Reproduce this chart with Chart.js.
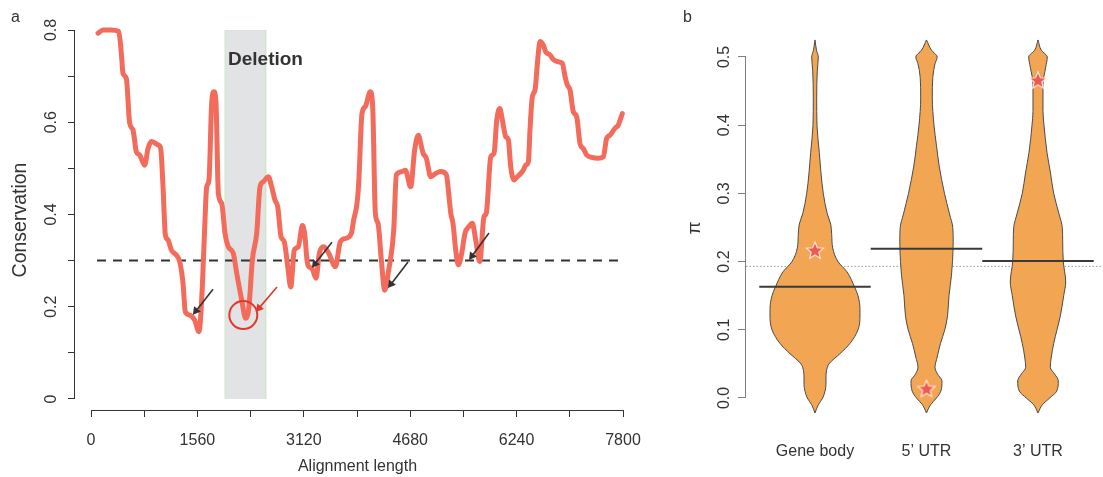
<!DOCTYPE html>
<html><head><meta charset="utf-8">
<script src="https://cdn.jsdelivr.net/npm/chart.js@4.4.0/dist/chart.umd.min.js"></script>
<style>
html,body{margin:0;padding:0;background:#fff;}
#wrap{position:relative;width:1103px;height:477px;overflow:hidden;}
#ca{position:absolute;left:0;top:0;}
#cb{position:absolute;left:650px;top:0;}
</style></head><body>
<div id="wrap"><canvas id="ca" width="650" height="477"></canvas><canvas id="cb" width="453" height="477"></canvas></div>
<script>
// ---------- Panel a data ----------
const alignPos = [103,176,298,406,445,469,518,567,616,665,714,787,836,885,982,1022,1056,1090,1129,1178,1251,1300,1349,1383,1447,1520,1583,1632,1671,1696,1730,1769,1803,1833,1867,1916,1965,2013,2086,2136,2209,2268,2316,2365,2429,2478,2527,2600,2649,2698,2737,2786,2834,2884,2928,2981,3039,3100,3135,3167,3192,3240,3299,3348,3412,3485,3583,3655,3729,3817,3851,3900,3925,3973,4022,4095,4130,4169,4208,4257,4306,4365,4438,4477,4560,4609,4687,4745,4799,4834,4868,4916,4981,5054,5127,5210,5249,5274,5307,5347,5385,5435,5483,5542,5591,5640,5699,5762,5796,5861,5909,5949,5993,6031,6080,6119,6153,6202,6250,6300,6338,6373,6412,6436,6470,6510,6549,6583,6632,6666,6730,6778,6851,6910,6950,6983,7023,7071,7121,7169,7218,7267,7341,7438,7511,7560,7609,7683,7731,7790];
const conservation = [0.793,0.800,0.800,0.797,0.749,0.706,0.695,0.598,0.583,0.536,0.529,0.507,0.543,0.558,0.551,0.543,0.460,0.356,0.345,0.323,0.312,0.298,0.251,0.189,0.182,0.171,0.146,0.243,0.388,0.460,0.475,0.641,0.666,0.641,0.446,0.424,0.359,0.330,0.316,0.273,0.215,0.175,0.200,0.301,0.359,0.460,0.471,0.482,0.460,0.431,0.417,0.352,0.341,0.287,0.243,0.323,0.330,0.376,0.355,0.301,0.287,0.283,0.262,0.316,0.330,0.316,0.287,0.341,0.348,0.359,0.388,0.424,0.468,0.619,0.634,0.666,0.634,0.403,0.381,0.301,0.236,0.280,0.366,0.486,0.493,0.496,0.460,0.540,0.572,0.554,0.533,0.522,0.482,0.489,0.493,0.486,0.439,0.403,0.381,0.323,0.291,0.316,0.359,0.374,0.381,0.345,0.298,0.395,0.403,0.525,0.533,0.605,0.630,0.605,0.569,0.562,0.504,0.475,0.482,0.489,0.496,0.507,0.514,0.583,0.655,0.670,0.735,0.775,0.767,0.753,0.746,0.736,0.731,0.728,0.699,0.681,0.670,0.623,0.612,0.554,0.543,0.529,0.524,0.522,0.525,0.565,0.572,0.587,0.594,0.619];
const threshold = 0.3;
const thresholdRange = [88, 7800];
const deletionRange = [1965, 2561];
const deletionLabel = 'Deletion';
const xTicksA = [0,780,1560,2340,3120,3900,4680,5460,6240,7020,7800];
const xLabelsA = [0,1560,3120,4680,6240,7800];
const yTicksA = [0,0.1,0.2,0.3,0.4,0.5,0.6,0.7,0.8];
const yLabelsA = ['0','','0.2','','0.4','','0.6','','0.8'];
// arrows: tail -> head (alignment position, conservation)
const arrowTailX = [1789, 2727, 3533, 4648, 5835];
const arrowTailY = [0.238, 0.243, 0.340, 0.297, 0.360];
const arrowHeadX = [1539, 2463, 3284, 4398, 5586];
const arrowHeadY = [0.191, 0.197, 0.293, 0.249, 0.310];
const arrowIsRed = [false, true, false, false, false];
const circleX = [2233], circleY = [0.182];

// ---------- Panel b data ----------
const categories = ['Gene body', '5\u2019 UTR', '3\u2019 UTR'];
const catPos = [1, 2, 3];
const medians = [0.163, 0.219, 0.201];
const overallPi = 0.193;
const starPi = [0.2155, 0.0127, 0.465];
const yTicksB = [0, 0.1, 0.2, 0.3, 0.4, 0.5];
const yLabelsB = ['0.0','0.1','0.2','0.3','0.4','0.5'];
const geneBodyPi  = [-0.022,-0.01,0,0.01,0.02,0.03,0.04,0.05,0.065,0.08,0.10,0.12,0.13,0.15,0.163,0.185,0.20,0.22,0.24,0.255,0.27,0.30,0.33,0.36,0.40,0.44,0.48,0.50,0.51,0.525];
const geneBodyDen = [0,3.3,7.7,10,11,11,11.5,14,25,35,43,45,45,43,39.5,32,23,17.7,16.7,15.7,12.3,8.3,6,4.3,2,1.7,2.3,3.3,1.5,0];
const utr5Pi  = [-0.022,-0.01,0,0.01,0.025,0.035,0.045,0.06,0.08,0.10,0.12,0.15,0.18,0.20,0.23,0.25,0.27,0.30,0.34,0.37,0.40,0.44,0.47,0.49,0.50,0.51,0.525];
const utr5Den = [0,4,10,14.3,15.5,11,8.5,10.7,14,18.3,21,22.5,25,26,26.7,26.3,23,18,12.7,10,7.5,5.8,6.3,8.5,10.7,5,0];
const utr3Pi  = [-0.022,-0.01,0,0.01,0.025,0.035,0.045,0.06,0.08,0.10,0.12,0.15,0.17,0.20,0.23,0.25,0.27,0.30,0.33,0.36,0.40,0.42,0.46,0.485,0.50,0.51,0.525];
const utr3Den = [0,4.3,11.7,18.7,20.3,16.7,12.3,13.3,15.7,19,22.3,25.7,27.7,25.3,24.7,24.3,21,15.7,12.5,9,6,5,5,7.7,9.3,3.3,0];

// ---------- common ----------
const FONT = "'Liberation Sans', Arial, Helvetica, sans-serif";
Chart.defaults.font.family = FONT;
Chart.defaults.color = '#333';

const rAxes = {
  id: 'rAxes',
  afterDraw(chart, args, opts) {
    const {ctx, chartArea, scales} = chart;
    ctx.save();
    ctx.strokeStyle = opts.color; ctx.lineWidth = 1;
    if (opts.y) {
      const px = Math.round(chartArea.left) - 0.5;
      ctx.beginPath();
      ctx.moveTo(px, scales.y.getPixelForValue(opts.y[0]));
      ctx.lineTo(px, scales.y.getPixelForValue(opts.y[1]));
      ctx.stroke();
    }
    if (opts.x) {
      const py = Math.round(chartArea.bottom) + 0.5;
      ctx.beginPath();
      ctx.moveTo(scales.x.getPixelForValue(opts.x[0]), py);
      ctx.lineTo(scales.x.getPixelForValue(opts.x[1]), py);
      ctx.stroke();
    }
    if (opts.label) {
      const L = opts.label;
      ctx.fillStyle = '#333';
      ctx.font = 'bold 19px ' + FONT;
      ctx.textBaseline = 'alphabetic';
      ctx.textAlign = 'left';
      ctx.fillText(L.text, scales.x.getPixelForValue(L.x) + 3, scales.y.getPixelForValue(L.y));
    }
    ctx.restore();
  }
};

function arrowRotation(ctx) {
  const ch = ctx.chart, d = ctx.dataset.data;
  const dx = ch.scales.x.getPixelForValue(d[1].x) - ch.scales.x.getPixelForValue(d[0].x);
  const dy = ch.scales.y.getPixelForValue(d[1].y) - ch.scales.y.getPixelForValue(d[0].y);
  return Math.atan2(dx, -dy) * 180 / Math.PI;
}
const noPad = s => { s.paddingLeft = 0; s.paddingRight = 0; s.paddingTop = 0; s.paddingBottom = 0; };

// ---------- Panel a ----------
const dsA = [];
dsA.push({
  data: [{x:deletionRange[0],y:0},{x:deletionRange[0],y:0.8},{x:deletionRange[1],y:0.8},{x:deletionRange[1],y:0}],
  fill: 'origin', backgroundColor: '#E1E3E5', borderColor: '#CFE7C8', borderWidth: 1,
  pointRadius: 0, tension: 0, order: 20
});
dsA.push({
  data: thresholdRange.map(x => ({x, y: threshold})),
  borderColor: '#333', borderWidth: 2, borderDash: [9, 7], pointRadius: 0, fill: false, order: 10
});
dsA.push({
  data: alignPos.map((x, i) => ({x, y: conservation[i]})),
  borderColor: '#F26B5B', borderWidth: 5, pointRadius: 0, fill: false, clip: 10,
  cubicInterpolationMode: 'monotone', borderJoinStyle: 'round', borderCapStyle: 'round', order: 5
});
arrowTailX.forEach((tx, i) => {
  const col = arrowIsRed[i] ? '#E8352B' : '#333';
  dsA.push({
    data: [{x: tx, y: arrowTailY[i]}, {x: arrowHeadX[i], y: arrowHeadY[i]}],
    borderColor: col, borderWidth: 1.6, fill: false, tension: 0,
    pointRadius: [0, 5], pointStyle: 'triangle', pointRotation: arrowRotation,
    pointBackgroundColor: col, pointBorderColor: col, pointBorderWidth: 0, order: 1
  });
});
dsA.push({
  data: circleX.map((x, i) => ({x, y: circleY[i]})),
  showLine: false, pointRadius: 14, pointStyle: 'circle',
  pointBackgroundColor: 'rgba(0,0,0,0)', pointBorderColor: '#E8352B', pointBorderWidth: 2, order: 0
});

new Chart(document.getElementById('ca'), {
  type: 'line',
  data: { datasets: dsA },
  plugins: [rAxes],
  options: {
    responsive: false, animation: false, devicePixelRatio: 1, events: [],
    layout: { autoPadding: false, padding: { left: 11, right: 10, top: 0, bottom: 0 } },
    plugins: {
      legend: { display: false }, tooltip: { enabled: false },
      title: { display: true, text: 'a', align: 'start', color: '#333',
               font: { size: 16, weight: 'normal' }, padding: { top: 8, bottom: 2.8 } },
      rAxes: { color: '#333', x: [0, 7800], y: [0, 0.8],
               label: { text: deletionLabel, x: deletionRange[0], y: 0.724 } }
    },
    scales: {
      x: {
        type: 'linear', min: -234.6, max: 8049,
        afterBuildTicks: s => { s.ticks = xTicksA.map(v => ({value: v})); },
        afterFit: s => { s.height = 67; noPad(s); },
        border: { display: false },
        grid: { drawOnChartArea: false, drawTicks: true, tickLength: 7, color: '#333', lineWidth: 1 },
        ticks: { autoSkip: false, maxRotation: 0, padding: 14, color: '#333', font: { size: 16 },
                 callback: v => xLabelsA.includes(v) ? String(v) : '' },
        title: { display: true, text: 'Alignment length', color: '#333', font: { size: 16 },
                 padding: { top: 0, bottom: 1 } }
      },
      y: {
        type: 'linear', min: -0.02385, max: 0.8,
        afterBuildTicks: s => { s.ticks = yTicksA.map(v => ({value: v})); },
        afterFit: s => { s.width = 64; noPad(s); },
        border: { display: false },
        grid: { drawOnChartArea: false, drawTicks: true, tickLength: 7, color: '#333', lineWidth: 1 },
        ticks: { autoSkip: false, minRotation: 90, maxRotation: 90, crossAlign: 'center', padding: 5,
                 color: '#333', font: { size: 16 }, callback: (v, i) => yLabelsA[i] },
        title: { display: true, text: 'Conservation', color: '#333', font: { size: 19.5 },
                 padding: { top: -2, bottom: 0 } }
      }
    }
  }
});

// ---------- Panel b ----------
const violinScale = 1 / 111.5;
const violinFill = '#F2A654', violinEdge = '#4a4a4a';
function violin(c, pis, dens) {
  const base = { indexAxis: 'y', backgroundColor: violinFill, borderColor: violinEdge, borderWidth: 1,
                 pointRadius: 0, cubicInterpolationMode: 'monotone' };
  return [
    Object.assign({}, base, { data: pis.map((p, i) => ({x: c + dens[i] * violinScale, y: p})), fill: '+1', order: 12 }),
    Object.assign({}, base, { data: pis.map((p, i) => ({x: c - dens[i] * violinScale, y: p})), fill: false, order: 11 })
  ];
}
function makeStar(r) {
  const s = Math.ceil(r * 2 + 4);
  const c = document.createElement('canvas'); c.width = s; c.height = s;
  const g = c.getContext('2d');
  g.beginPath();
  for (let i = 0; i < 10; i++) {
    const rr = i % 2 ? r * 0.45 : r;
    const a = -Math.PI / 2 + i * Math.PI / 5;
    g.lineTo(s / 2 + rr * Math.cos(a), s / 2 + rr * Math.sin(a));
  }
  g.closePath();
  g.fillStyle = '#EE5A4F'; g.fill();
  g.strokeStyle = 'rgba(255,236,228,0.95)'; g.lineWidth = 1.2; g.stroke();
  return c;
}
const xMinB = 0.3812, xMaxB = 3.583;
const dsB = [];
dsB.push({
  data: [{x: xMinB, y: overallPi}, {x: xMaxB, y: overallPi}],
  borderColor: '#9a9a9a', borderWidth: 1, borderDash: [1.5, 2], pointRadius: 0, fill: false, order: 30
});
dsB.push(...violin(catPos[0], geneBodyPi, geneBodyDen));
dsB.push(...violin(catPos[1], utr5Pi, utr5Den));
dsB.push(...violin(catPos[2], utr3Pi, utr3Den));
catPos.forEach((c, i) => {
  dsB.push({
    data: [{x: c - 0.5, y: medians[i]}, {x: c + 0.5, y: medians[i]}],
    borderColor: '#3a3a3a', borderWidth: 2, pointRadius: 0, fill: false, order: 2
  });
});
dsB.push({
  data: catPos.map((c, i) => ({x: c, y: starPi[i]})),
  showLine: false, pointStyle: makeStar(9), pointRadius: 9, order: 0
});

new Chart(document.getElementById('cb'), {
  type: 'line',
  data: { datasets: dsB },
  plugins: [rAxes],
  options: {
    responsive: false, animation: false, devicePixelRatio: 1, events: [],
    layout: { autoPadding: false, padding: { left: 33, right: 0, top: 0, bottom: 0 } },
    plugins: {
      legend: { display: false }, tooltip: { enabled: false },
      title: { display: true, text: 'b', align: 'start', color: '#333',
               font: { size: 16, weight: 'normal' }, padding: { top: 8, bottom: 9.8 } },
      rAxes: { color: '#808080', y: [0, 0.5] }
    },
    scales: {
      x: {
        type: 'linear', min: xMinB, max: xMaxB,
        afterBuildTicks: s => { s.ticks = catPos.map(v => ({value: v})); },
        afterFit: s => { s.height = 58; noPad(s); },
        border: { display: false },
        grid: { display: false },
        ticks: { autoSkip: false, maxRotation: 0, padding: 15, color: '#333', font: { size: 16 },
                 callback: (v, i) => categories[i] }
      },
      y: {
        type: 'linear', min: -0.0308, max: 0.5293,
        afterBuildTicks: s => { s.ticks = yTicksB.map(v => ({value: v})); },
        afterFit: s => { s.width = 63; noPad(s); },
        border: { display: false },
        grid: { drawOnChartArea: false, drawTicks: true, tickLength: 8, color: '#808080', lineWidth: 1 },
        ticks: { autoSkip: false, minRotation: 90, maxRotation: 90, crossAlign: 'center', padding: 2,
                 color: '#333', font: { size: 16 }, callback: (v, i) => yLabelsB[i] },
        title: { display: true, text: '\u03C0', color: '#333', font: { size: 19 },
                 padding: { top: 0, bottom: 0 } }
      }
    }
  }
});
</script>
</body></html>
